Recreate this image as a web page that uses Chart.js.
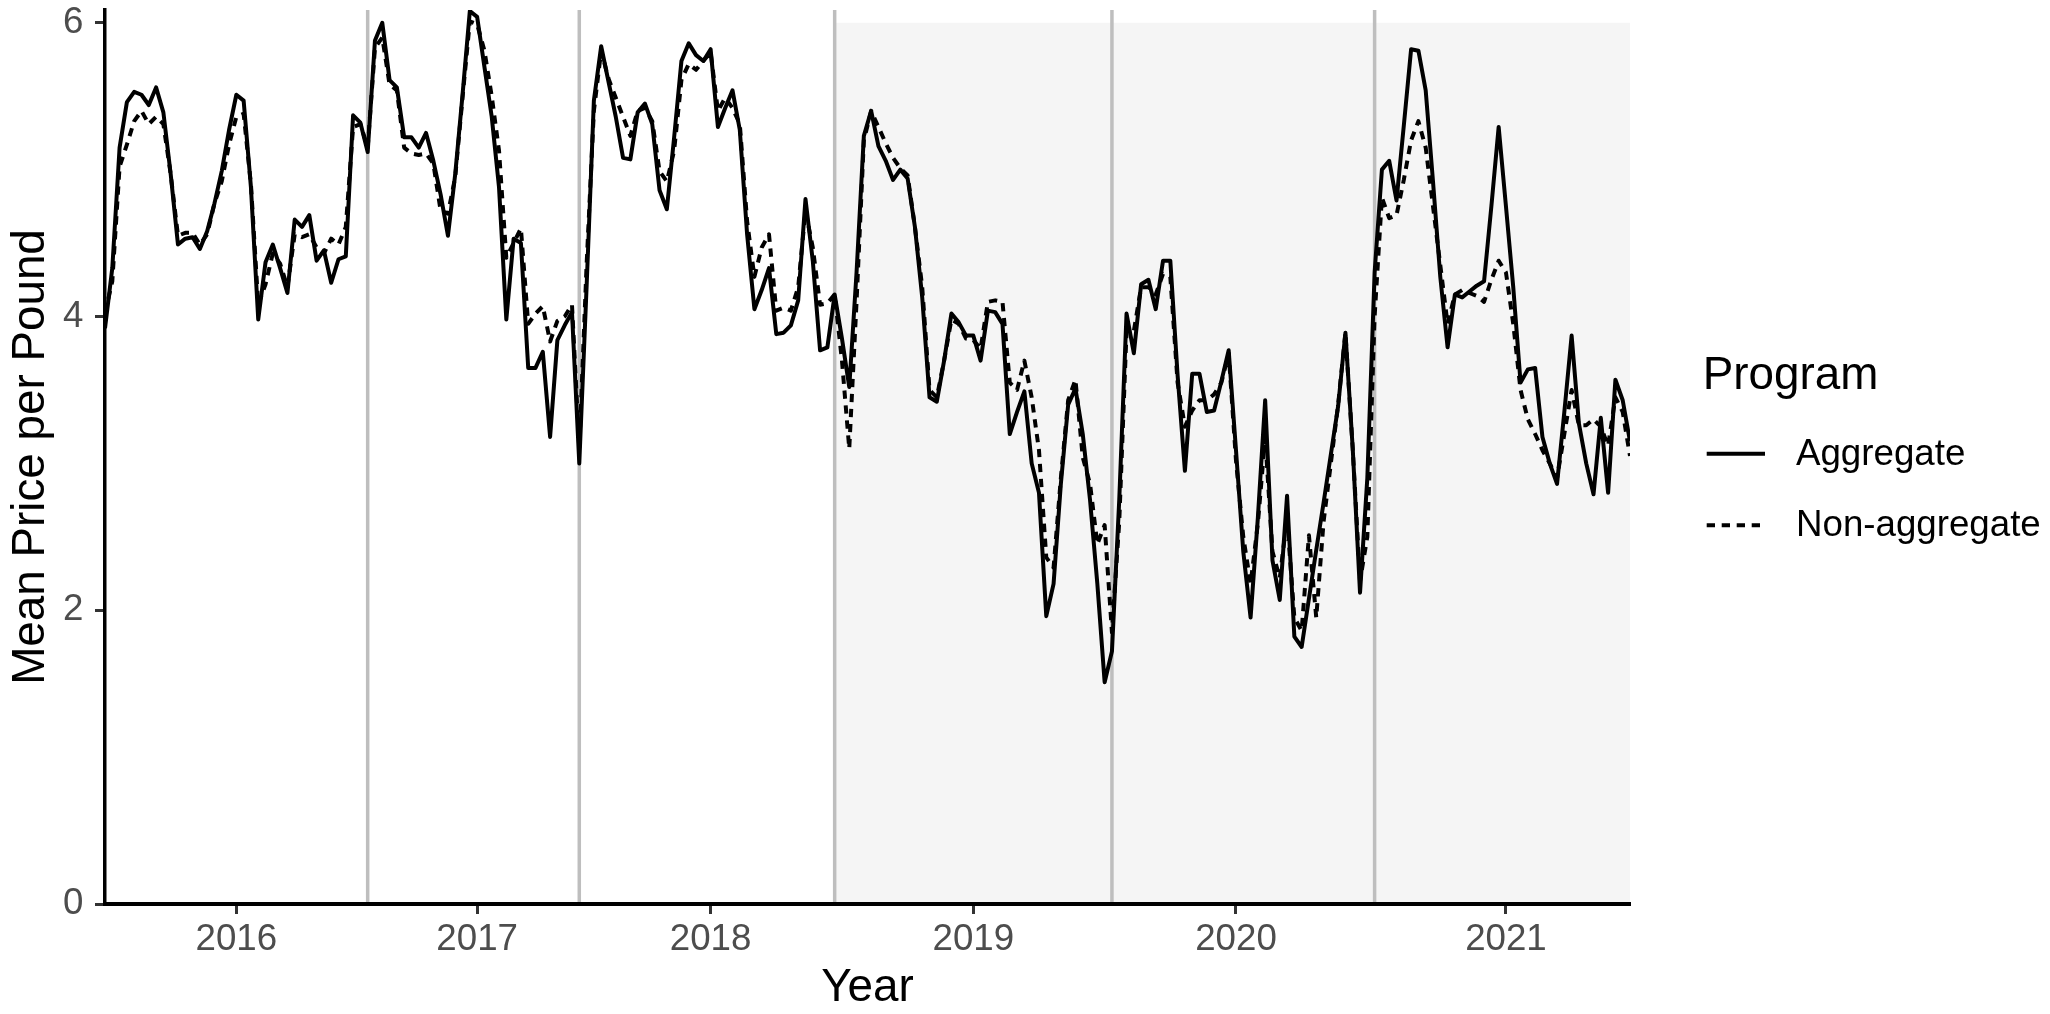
<!DOCTYPE html>
<html><head><meta charset="utf-8">
<script src="https://cdn.jsdelivr.net/npm/chart.js@4.4.1/dist/chart.umd.min.js"></script>
<style>html,body{margin:0;padding:0;background:#fff;}canvas{display:block;}</style>
</head><body>
<canvas id="c" width="2050" height="1014"></canvas>
<script>
// ---- data (period index on x, mean price per pound on y) ----
const aggregate = [3.92,4.33,5.15,5.46,5.53,5.51,5.44,5.56,5.39,4.97,
 4.49,4.53,4.54,4.46,4.58,4.77,4.99,5.27,5.51,5.47,
 4.88,3.98,4.37,4.49,4.33,4.16,4.66,4.61,4.69,4.38,
 4.45,4.23,4.39,4.41,5.37,5.32,5.12,5.88,6.00,5.61,
 5.56,5.22,5.22,5.15,5.25,5.06,4.83,4.55,4.97,5.51,
 6.08,6.04,5.70,5.36,4.88,3.98,4.53,4.50,3.65,3.65,
 3.76,3.18,3.84,3.94,4.03,3.00,4.20,5.47,5.84,5.60,
 5.36,5.08,5.07,5.39,5.45,5.31,4.86,4.73,5.22,5.74,
 5.86,5.78,5.74,5.82,5.29,5.42,5.54,5.27,4.56,4.05,
 4.18,4.33,3.88,3.89,3.94,4.11,4.80,4.38,3.77,3.79,
 4.15,3.85,3.52,4.30,5.23,5.40,5.16,5.06,4.93,5.00,
 4.94,4.61,4.13,3.45,3.42,3.70,4.02,3.96,3.87,3.87,
 3.70,4.04,4.03,3.95,3.20,3.35,3.49,3.00,2.80,1.96,
 2.18,2.86,3.40,3.51,3.20,2.75,2.18,1.51,1.72,2.75,
 4.02,3.75,4.22,4.25,4.05,4.38,4.38,3.60,2.95,3.61,
 3.61,3.35,3.36,3.56,3.77,3.09,2.40,1.95,2.63,3.43,
 2.34,2.07,2.78,1.82,1.75,2.08,2.41,2.73,3.06,3.39,
 3.89,3.10,2.12,2.90,4.30,5.00,5.06,4.79,5.30,5.82,
 5.81,5.54,4.92,4.27,3.79,4.15,4.13,4.17,4.21,4.24,
 4.75,5.29,4.75,4.20,3.55,3.64,3.65,3.18,3.00,2.86,
 3.35,3.87,3.27,3.00,2.79,3.31,2.80,3.57,3.43,3.15];

const nonAggregate = [4.02,4.24,5.02,5.17,5.33,5.40,5.31,5.36,5.31,4.97,
 4.55,4.57,4.57,4.49,4.56,4.77,4.92,5.17,5.36,5.38,
 4.90,4.08,4.22,4.43,4.36,4.20,4.56,4.54,4.56,4.47,
 4.43,4.53,4.49,4.61,5.29,5.31,5.15,5.83,5.90,5.58,
 5.54,5.15,5.11,5.10,5.11,5.04,4.72,4.70,4.95,5.49,
 6.01,5.99,5.81,5.50,5.13,4.40,4.50,4.60,3.95,4.02,
 4.07,3.83,3.97,4.00,4.08,3.10,4.35,5.40,5.81,5.62,
 5.49,5.36,5.23,5.40,5.42,5.33,4.99,4.92,5.13,5.61,
 5.72,5.68,5.74,5.80,5.40,5.49,5.42,5.31,4.65,4.27,
 4.47,4.56,4.04,4.06,4.04,4.20,4.72,4.47,4.08,4.09,
 4.15,3.70,3.10,4.10,5.20,5.40,5.29,5.18,5.08,5.01,
 4.96,4.61,4.20,3.50,3.45,3.70,3.98,3.95,3.85,3.84,
 3.78,4.10,4.11,4.10,3.55,3.50,3.70,3.45,3.09,2.36,
 2.29,2.90,3.43,3.57,3.04,2.86,2.45,2.58,1.85,2.60,
 3.90,3.90,4.20,4.20,4.15,4.29,4.27,3.55,3.25,3.36,
 3.43,3.43,3.47,3.55,3.75,3.02,2.50,2.18,2.59,3.18,
 2.40,2.22,2.63,1.95,1.86,2.51,1.95,2.60,3.00,3.40,
 3.89,3.10,2.20,2.50,4.00,4.81,4.67,4.69,4.93,5.20,
 5.33,5.15,4.75,4.35,3.95,4.15,4.18,4.16,4.14,4.10,
 4.25,4.38,4.30,3.95,3.50,3.30,3.20,3.09,3.00,2.90,
 3.20,3.50,3.26,3.26,3.30,3.25,3.12,3.45,3.35,3.05];

const periods = aggregate.map((_, i) => i);              // observation index
const yearTickPeriods = [18, 51, 83, 119, 155, 192];     // first observation of each year
const yearTickLabels  = ['2016', '2017', '2018', '2019', '2020', '2021'];
const seasonBreakPeriods = [36, 65, 100, 138, 174];      // vertical reference lines
const shadeStartPeriod = 100;                            // shaded period start
const shadeTopValue = 6;
const yTickValues = [0, 2, 4, 6];
const yMaxValue = 6.087;
const seriesLabels = ['Aggregate', 'Non-aggregate'];
const legendTitle = 'Program';

// ---- chart ----
const FONT = "'Liberation Sans', Arial, Helvetica, sans-serif";
Chart.defaults.font.family = FONT;

const toXY = (vals) => vals.map((v, i) => ({x: periods[i], y: v}));
const lastPeriod = periods[periods.length - 1];

const datasets = [
  { label: seriesLabels[0], data: toXY(aggregate), borderColor: '#000', borderWidth: 4,
    pointRadius: 0, tension: 0, borderJoinStyle: 'round', order: 0, inLegend: true },
  { label: seriesLabels[1], data: toXY(nonAggregate), borderColor: '#000', borderWidth: 4,
    borderDash: [8.3, 6.7], pointRadius: 0, tension: 0, borderJoinStyle: 'round', order: 1, inLegend: true }
];
seasonBreakPeriods.forEach(p => datasets.push({
  label: 'break', data: [{x: p, y: 0}, {x: p, y: yMaxValue}], borderColor: '#BEBEBE',
  borderWidth: 3.5, pointRadius: 0, order: 5
}));
datasets.push({
  label: 'shade', data: [{x: shadeStartPeriod, y: shadeTopValue}, {x: lastPeriod, y: shadeTopValue}],
  borderWidth: 0, borderColor: 'rgba(0,0,0,0)', backgroundColor: '#F5F5F5', fill: 'origin',
  pointRadius: 0, order: 9
});

const legendPlugin = {
  id: 'refLegend',
  afterDraw(chart) {
    const ctx = chart.ctx;
    ctx.save();
    ctx.textBaseline = 'middle';
    ctx.textAlign = 'left';
    ctx.fillStyle = '#000';
    ctx.font = '45.8px ' + FONT;
    ctx.fillText(legendTitle, 1702.7, 376.7);
    const items = chart.data.datasets.filter(d => d.inLegend);
    items.forEach((ds, k) => {
      const y = 453.8 + k * 71.5;
      ctx.beginPath();
      ctx.setLineDash(ds.borderDash || []);
      ctx.lineWidth = ds.borderWidth;
      ctx.strokeStyle = ds.borderColor;
      ctx.moveTo(1706.7, y);
      ctx.lineTo(1765, y);
      ctx.stroke();
      ctx.setLineDash([]);
      ctx.font = '36.7px ' + FONT;
      ctx.fillStyle = '#000';
      ctx.fillText(ds.label, 1796, y + 0.8);
    });
    ctx.restore();
  }
};

new Chart(document.getElementById('c'), {
  type: 'line',
  data: { datasets },
  plugins: [legendPlugin],
  options: {
    responsive: false,
    animation: false,
    devicePixelRatio: 1,
    layout: { padding: { left: 0, top: 10, right: 420, bottom: 0 } },
    plugins: { legend: { display: false }, tooltip: { enabled: false } },
    scales: {
      x: {
        type: 'linear',
        z: 1,
        min: 0,
        max: lastPeriod,
        afterBuildTicks: (s) => { s.ticks = yearTickPeriods.map(v => ({value: v})); },
        afterFit: (s) => { s.height = 110; s.paddingLeft = 0; s.paddingRight = 0; },
        ticks: {
          autoSkip: false, maxRotation: 0, minRotation: 0,
          color: '#4D4D4D', padding: 7.3,
          font: { size: 36.7, lineHeight: 1 },
          callback: (v) => yearTickLabels[yearTickPeriods.indexOf(v)]
        },
        grid: { display: true, drawOnChartArea: false, drawTicks: true, tickLength: 10,
                tickColor: '#333333', tickWidth: 3, z: 1 },
        border: { display: true, color: '#000', width: 4, z: 2 },
        title: { display: true, text: 'Year', color: '#000',
                 font: { size: 45.8, lineHeight: 1 }, padding: { top: 0, bottom: 3 } }
      },
      y: {
        type: 'linear',
        z: 1,
        min: 0,
        max: yMaxValue,
        afterBuildTicks: (s) => { s.ticks = yTickValues.map(v => ({value: v})); },
        afterFit: (s) => { s.width = 105; s.paddingTop = 0; s.paddingBottom = 0; },
        ticks: { color: '#4D4D4D', padding: 11.7, font: { size: 36.7, lineHeight: 1 },
                 callback: (v) => String(v) },
        grid: { display: true, drawOnChartArea: false, drawTicks: true, tickLength: 10,
                tickColor: '#333333', tickWidth: 3, z: 1 },
        border: { display: true, color: '#000', width: 3.5, z: 2 },
        title: { display: true, text: 'Mean Price per Pound', color: '#000',
                 font: { size: 45.8, lineHeight: 1 }, padding: { top: 8, bottom: 0 } }
      }
    }
  }
});
</script>
</body></html>
